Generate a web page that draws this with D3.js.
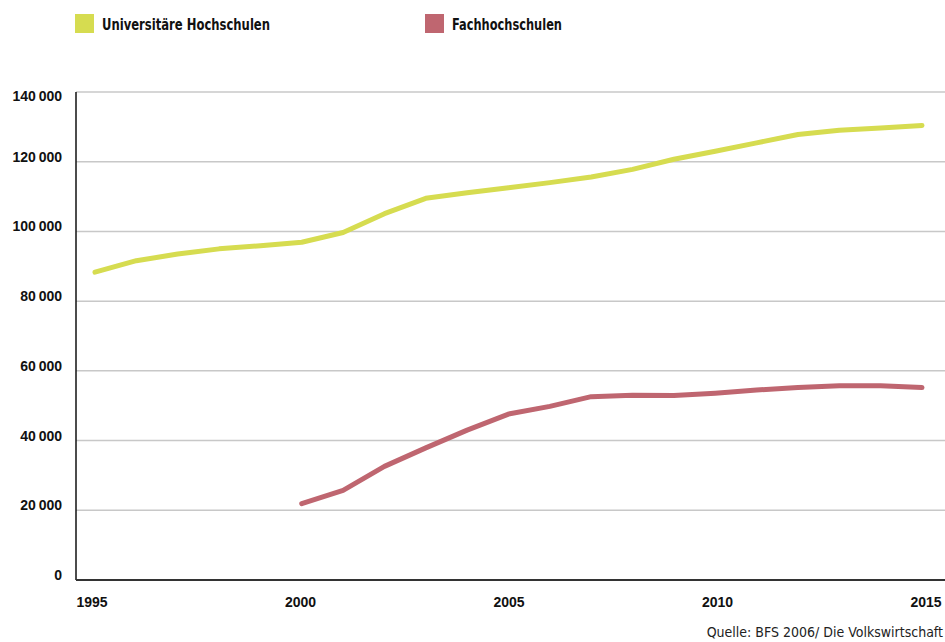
<!DOCTYPE html>
<html>
<head>
<meta charset="utf-8">
<script src="https://cdn.jsdelivr.net/npm/d3@7"></script>
<style>
	body { margin: 0; background: #fff; }
	svg { display: block; }
</style>
</head>
<body>
<svg id="chart" width="945" height="642"></svg>
<script>
// years and student counts
var years = d3.range(1995, 2016);
var uniYears = years;
var uniValues = [88300, 91600, 93500, 95000, 95900, 96900, 99700, 105100, 109500, 111100,
	112500, 114000, 115600, 117800, 120700, 123000, 125400, 127800, 129000, 129700, 130400];
var fhYears = d3.range(2000, 2016);
var fhValues = [21900, 25700, 32600, 37900, 43000, 47600, 49800, 52600, 53000, 52900,
	53600, 54500, 55200, 55700, 55700, 55200];
var yTicks = [0, 20000, 40000, 60000, 80000, 100000, 120000, 140000];
var xTicks = [1995, 2000, 2005, 2010, 2015];
var seriesNames = ['Universitäre Hochschulen', 'Fachhochschulen'];
var source = 'Quelle: BFS 2006/ Die Volkswirtschaft';

var uniColor = '#d6dc50';
var fhColor = '#bf6670';
var narrow = "'Liberation Sans Narrow', 'DejaVu Sans Condensed', 'DejaVu Sans', sans-serif";
var wide = "'Liberation Sans', Arial, sans-serif";

var svg = d3.select('#chart');

var mLeft = 76, mRight = 945, mTop = 92, mBottom = 580;

var x = d3.scaleLinear().domain([1995, 2015]).range([95, 922]);
// tick labels sit slightly wider than the data points
var xLab = d3.scaleLinear().domain([1995, 2015]).range([92, 926]);
var y = d3.scaleLinear().domain([0, 140000]).range([mBottom, mTop]);

// gridlines
svg.append('g')
	.selectAll('line')
	.data(yTicks.filter(d => d > 0))
	.enter()
	.append('line')
	.attr('x1', mLeft)
	.attr('x2', mRight)
	.attr('y1', d => y(d))
	.attr('y2', d => y(d))
	.attr('stroke', '#c8c8c8')
	.attr('stroke-width', 1.5);

// y labels
svg.append('g')
	.selectAll('text')
	.data(yTicks)
	.enter()
	.append('text')
	.attr('x', 62)
	.attr('y', d => Math.max(y(d), mTop + 9))
	.attr('text-anchor', 'end')
	.attr('font-family', wide)
	.attr('font-weight', 'bold')
	.attr('font-size', 14)
	.attr('fill', '#111')
	.text(d => d3.format(',')(d).replace(/,/g, '\u2009'));

// x labels
svg.append('g')
	.selectAll('text')
	.data(xTicks)
	.enter()
	.append('text')
	.attr('x', d => xLab(d))
	.attr('y', 607)
	.attr('text-anchor', 'middle')
	.attr('font-family', wide)
	.attr('font-weight', 'bold')
	.attr('font-size', 14)
	.attr('fill', '#111')
	.text(d => d);

// axes lines
svg.append('line')
	.attr('x1', mLeft).attr('x2', mLeft)
	.attr('y1', mTop).attr('y2', mBottom)
	.attr('stroke', '#111').attr('stroke-width', 1.5);
svg.append('line')
	.attr('x1', mLeft).attr('x2', mRight)
	.attr('y1', mBottom).attr('y2', mBottom)
	.attr('stroke', '#333').attr('stroke-width', 2);

var line = d3.line()
	.x(d => x(d[0]))
	.y(d => y(d[1]));

var drawSeries = function(xs, vals, color) {
	svg.append('path')
		.datum(xs.map((yr, i) => [yr, vals[i]]))
		.attr('d', line)
		.attr('fill', 'none')
		.attr('stroke', color)
		.attr('stroke-width', 5)
		.attr('stroke-linecap', 'round')
		.attr('stroke-linejoin', 'round');
}

drawSeries(uniYears, uniValues, uniColor);
drawSeries(fhYears, fhValues, fhColor);

// legend
var legend = svg.append('g');
var legX = [75, 425];
var legW = [168, 110];
var legColors = [uniColor, fhColor];
seriesNames.forEach(function(name, i) {
	legend.append('rect')
		.attr('x', legX[i])
		.attr('y', 14)
		.attr('width', 19)
		.attr('height', 19)
		.attr('fill', legColors[i]);
	legend.append('text')
		.attr('x', legX[i] + 27)
		.attr('y', 30)
		.attr('font-family', narrow)
		.attr('font-stretch', 'condensed')
		.attr('font-weight', 'bold')
		.attr('font-size', 15)
		.attr('textLength', legW[i])
		.attr('lengthAdjust', 'spacingAndGlyphs')
		.attr('fill', '#111')
		.text(name);
});

// source
svg.append('text')
	.attr('x', 943)
	.attr('y', 637)
	.attr('text-anchor', 'end')
	.attr('font-family', narrow)
	.attr('font-stretch', 'condensed')
	.attr('font-size', 14)
	.attr('fill', '#222')
	.text(source);
</script>
</body>
</html>
